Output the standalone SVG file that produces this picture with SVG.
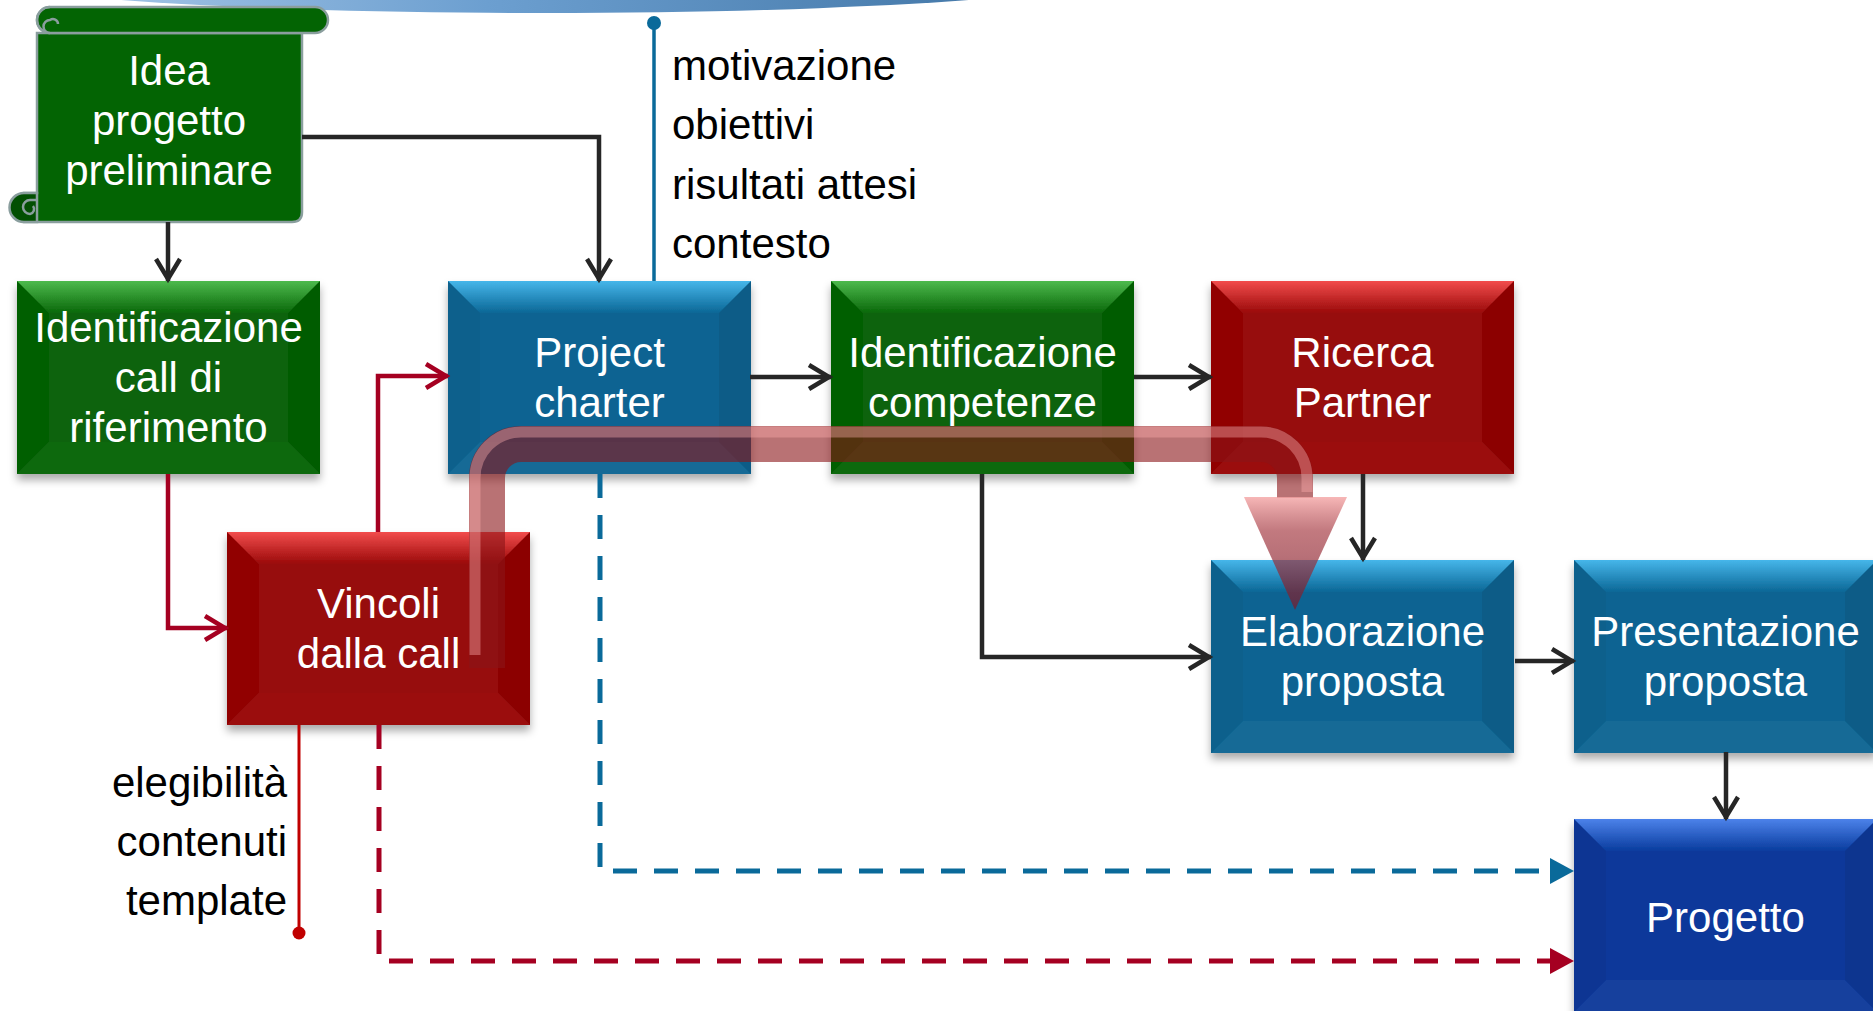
<svg xmlns="http://www.w3.org/2000/svg" xmlns:xlink="http://www.w3.org/1999/xlink" width="1873" height="1011" viewBox="0 0 1873 1011">
<style>
  text { font-family: "Liberation Sans", Arial, sans-serif; font-size: 42px; }
  .wt { fill: #ffffff; text-anchor: middle; }
  .bk { fill: #000000; }
  .ln { fill: none; stroke: #262626; stroke-width: 4.5; }
  .rd { fill: none; stroke: #A50021; stroke-width: 4.5; }
  .bd { fill: none; stroke: #0A6A9A; stroke-width: 5; stroke-dasharray: 24 17; }
  .rdd { fill: none; stroke: #A50021; stroke-width: 5; stroke-dasharray: 24 17; }
  .box { filter: url(#sh); }
</style>
<defs>
  <linearGradient id="banner" x1="0" y1="0" x2="1" y2="0">
    <stop offset="0" stop-color="#B4D0EC"/>
    <stop offset="0.45" stop-color="#6C9FD0"/>
    <stop offset="1" stop-color="#3A6E9E"/>
  </linearGradient>
  <linearGradient id="tG" x1="0" y1="0" x2="0" y2="1"><stop offset="0" stop-color="#4DBA4D"/><stop offset="1" stop-color="#0A680A"/></linearGradient>
  <linearGradient id="tB" x1="0" y1="0" x2="0" y2="1"><stop offset="0" stop-color="#46B6EA"/><stop offset="1" stop-color="#0B6796"/></linearGradient>
  <linearGradient id="tR" x1="0" y1="0" x2="0" y2="1"><stop offset="0" stop-color="#F24C4C"/><stop offset="1" stop-color="#9A0A0A"/></linearGradient>
  <linearGradient id="tN" x1="0" y1="0" x2="0" y2="1"><stop offset="0" stop-color="#4C82EA"/><stop offset="1" stop-color="#0A3C9E"/></linearGradient>
  <linearGradient id="head" x1="0" y1="0" x2="0" y2="1">
    <stop offset="0" stop-color="#F5A5A5" stop-opacity="0.8"/>
    <stop offset="0.3" stop-color="#A84048" stop-opacity="0.7"/>
    <stop offset="1" stop-color="#7A1828" stop-opacity="0.7"/>
  </linearGradient>
  <filter id="sh" x="-10%" y="-10%" width="120%" height="125%">
    <feDropShadow dx="0" dy="6" stdDeviation="4" flood-color="#000" flood-opacity="0.33"/>
  </filter>
  <g id="bevel">
    <polygon points="0,0 32,32 32,161 0,193" fill="#000" fill-opacity="0.04"/>
    <polygon points="303,0 303,193 271,161 271,32" fill="#000" fill-opacity="0.07"/>
    <polygon points="0,193 32,161 271,161 303,193" fill="#fff" fill-opacity="0.04"/>
  </g>
  <g id="boxG"><rect width="303" height="193" fill="#076307"/><polygon points="0,0 303,0 271,32 32,32" fill="url(#tG)"/><use href="#bevel"/></g>
  <g id="boxB"><rect width="303" height="193" fill="#0A6492"/><polygon points="0,0 303,0 271,32 32,32" fill="url(#tB)"/><use href="#bevel"/></g>
  <g id="boxR"><rect width="303" height="193" fill="#970707"/><polygon points="0,0 303,0 271,32 32,32" fill="url(#tR)"/><use href="#bevel"/></g>
  <g id="boxN"><rect width="303" height="193" fill="#0A389A"/><polygon points="0,0 303,0 271,32 32,32" fill="url(#tN)"/><use href="#bevel"/></g>
  <marker id="aBk" viewBox="-26 -15 30 30" refX="0" refY="0" markerWidth="30" markerHeight="30" markerUnits="userSpaceOnUse" orient="auto">
    <path d="M-22,-12 L-2,0 L-22,12" fill="none" stroke="#262626" stroke-width="4.5"/>
  </marker>
  <marker id="aRd" viewBox="-26 -15 30 30" refX="0" refY="0" markerWidth="30" markerHeight="30" markerUnits="userSpaceOnUse" orient="auto">
    <path d="M-22,-12 L-2,0 L-22,12" fill="none" stroke="#A50021" stroke-width="4.5"/>
  </marker>
  <marker id="tBl" viewBox="0 -15 26 30" refX="0" refY="0" markerWidth="26" markerHeight="30" markerUnits="userSpaceOnUse" orient="auto">
    <path d="M0,-13 L24,0 L0,13 Z" fill="#0A6A9A"/>
  </marker>
  <marker id="tRd" viewBox="0 -15 26 30" refX="0" refY="0" markerWidth="26" markerHeight="30" markerUnits="userSpaceOnUse" orient="auto">
    <path d="M0,-13 L24,0 L0,13 Z" fill="#A50021"/>
  </marker>
</defs>

<rect width="1873" height="1011" fill="#ffffff"/>
<ellipse id="banner-shape" cx="545" cy="-28" rx="580" ry="41" fill="url(#banner)"/>

<g id="n-idea">
  <path d="M37,33 H302 V212 Q302,222 292,222 H24 V193 H37 Z" fill="#036403" stroke="#8A9E9E" stroke-width="2.5"/>
  <rect x="37" y="7" width="291" height="26" rx="13" fill="#036403" stroke="#8A9E9E" stroke-width="2.5"/>
  <path d="M50,33 A13,13 0 0 1 50,7 M50,33 A6.5,6.5 0 0 1 50,20 A5,5 0 0 1 58,24" fill="none" stroke="#8A9E9E" stroke-width="2.5"/>
  <path d="M37,193 H24 A14.5,14.5 0 0 0 24,222 H37 Z" fill="#024F02" stroke="#8A9E9E" stroke-width="2.5"/>
  <path d="M37,200 H30 A7,7 0 0 0 30,214 A5,5 0 0 0 33,206" fill="none" stroke="#8A9E9E" stroke-width="2.5"/>
  <text class="wt" x="169" y="85">Idea</text>
  <text class="wt" x="169" y="135">progetto</text>
  <text class="wt" x="169" y="185">preliminare</text>
</g>

<g id="n-callrif">
  <use class="box" href="#boxG" x="17" y="281"/>
  <text class="wt" x="168.5" y="342">Identificazione</text>
  <text class="wt" x="168.5" y="392">call di</text>
  <text class="wt" x="168.5" y="442">riferimento</text>
</g>

<g id="n-charter">
  <use class="box" href="#boxB" x="448" y="281"/>
  <text class="wt" x="599.5" y="367">Project</text>
  <text class="wt" x="599.5" y="417">charter</text>
</g>

<g id="n-competenze">
  <use class="box" href="#boxG" x="831" y="281"/>
  <text class="wt" x="982.5" y="367">Identificazione</text>
  <text class="wt" x="982.5" y="417">competenze</text>
</g>

<g id="n-partner">
  <use class="box" href="#boxR" x="1211" y="281"/>
  <text class="wt" x="1362.5" y="367">Ricerca</text>
  <text class="wt" x="1362.5" y="417">Partner</text>
</g>

<g id="n-vincoli">
  <use class="box" href="#boxR" x="227" y="532"/>
  <text class="wt" x="378.5" y="618">Vincoli</text>
  <text class="wt" x="378.5" y="668">dalla call</text>
</g>

<g id="n-elaborazione">
  <use class="box" href="#boxB" x="1211" y="560"/>
  <text class="wt" x="1362.5" y="646">Elaborazione</text>
  <text class="wt" x="1362.5" y="696">proposta</text>
</g>

<g id="n-presentazione">
  <use class="box" href="#boxB" x="1574" y="560"/>
  <text class="wt" x="1725.5" y="646">Presentazione</text>
  <text class="wt" x="1725.5" y="696">proposta</text>
</g>

<g id="n-progetto">
  <use class="box" href="#boxN" x="1574" y="819"/>
  <text class="wt" x="1725.5" y="932">Progetto</text>
</g>

<g id="annotations">
  <text class="bk" x="672" y="80">motivazione</text>
  <text class="bk" x="672" y="139">obiettivi</text>
  <text class="bk" x="672" y="199">risultati attesi</text>
  <text class="bk" x="672" y="258">contesto</text>
  <text class="bk" x="287" y="797" text-anchor="end">elegibilità</text>
  <text class="bk" x="287" y="856" text-anchor="end">contenuti</text>
  <text class="bk" x="287" y="915" text-anchor="end">template</text>
</g>

<g id="connectors">
  <path class="ln" d="M168,222 V281" marker-end="url(#aBk)"/>
  <path class="ln" d="M302,137 H599 V281" marker-end="url(#aBk)"/>
  <path class="ln" d="M750,377 H831" marker-end="url(#aBk)"/>
  <path class="ln" d="M1134,377 H1211" marker-end="url(#aBk)"/>
  <path class="ln" d="M1363,474 V560" marker-end="url(#aBk)"/>
  <path class="ln" d="M982,474 V657 H1211" marker-end="url(#aBk)"/>
  <path class="ln" d="M1515,661 H1574" marker-end="url(#aBk)"/>
  <path class="ln" d="M1726,752 V819" marker-end="url(#aBk)"/>
  <path class="rd" d="M168,474 V628 H227" marker-end="url(#aRd)"/>
  <path class="rd" d="M378,532 V376 H448" marker-end="url(#aRd)"/>
  <path d="M654,281 V24" fill="none" stroke="#0A6A9A" stroke-width="3.5"/>
  <circle cx="654" cy="23" r="7" fill="#0A6A9A"/>
  <path d="M299,725 V930" fill="none" stroke="#C00000" stroke-width="3"/>
  <circle cx="299" cy="933" r="6.5" fill="#C00000"/>
  <path class="bd" d="M600,474 V871 H1550" marker-end="url(#tBl)"/>
  <path class="rdd" d="M379,725 V961 H1550" marker-end="url(#tRd)"/>
</g>

<g id="big-arrow">
  <path d="M487,668 V478 A34,34 0 0 1 521,444 H1261 A34,34 0 0 1 1295,478 V498" fill="none" stroke="#8A1418" stroke-opacity="0.6" stroke-width="36"/>
  <path d="M475,655 V478 A46,46 0 0 1 521,432 H1261 A46,46 0 0 1 1307,478 V492" fill="none" stroke="#FFB0B0" stroke-opacity="0.4" stroke-width="11"/>
  <polygon points="1244,497 1347,497 1295,610" fill="url(#head)"/>
</g>
</svg>
